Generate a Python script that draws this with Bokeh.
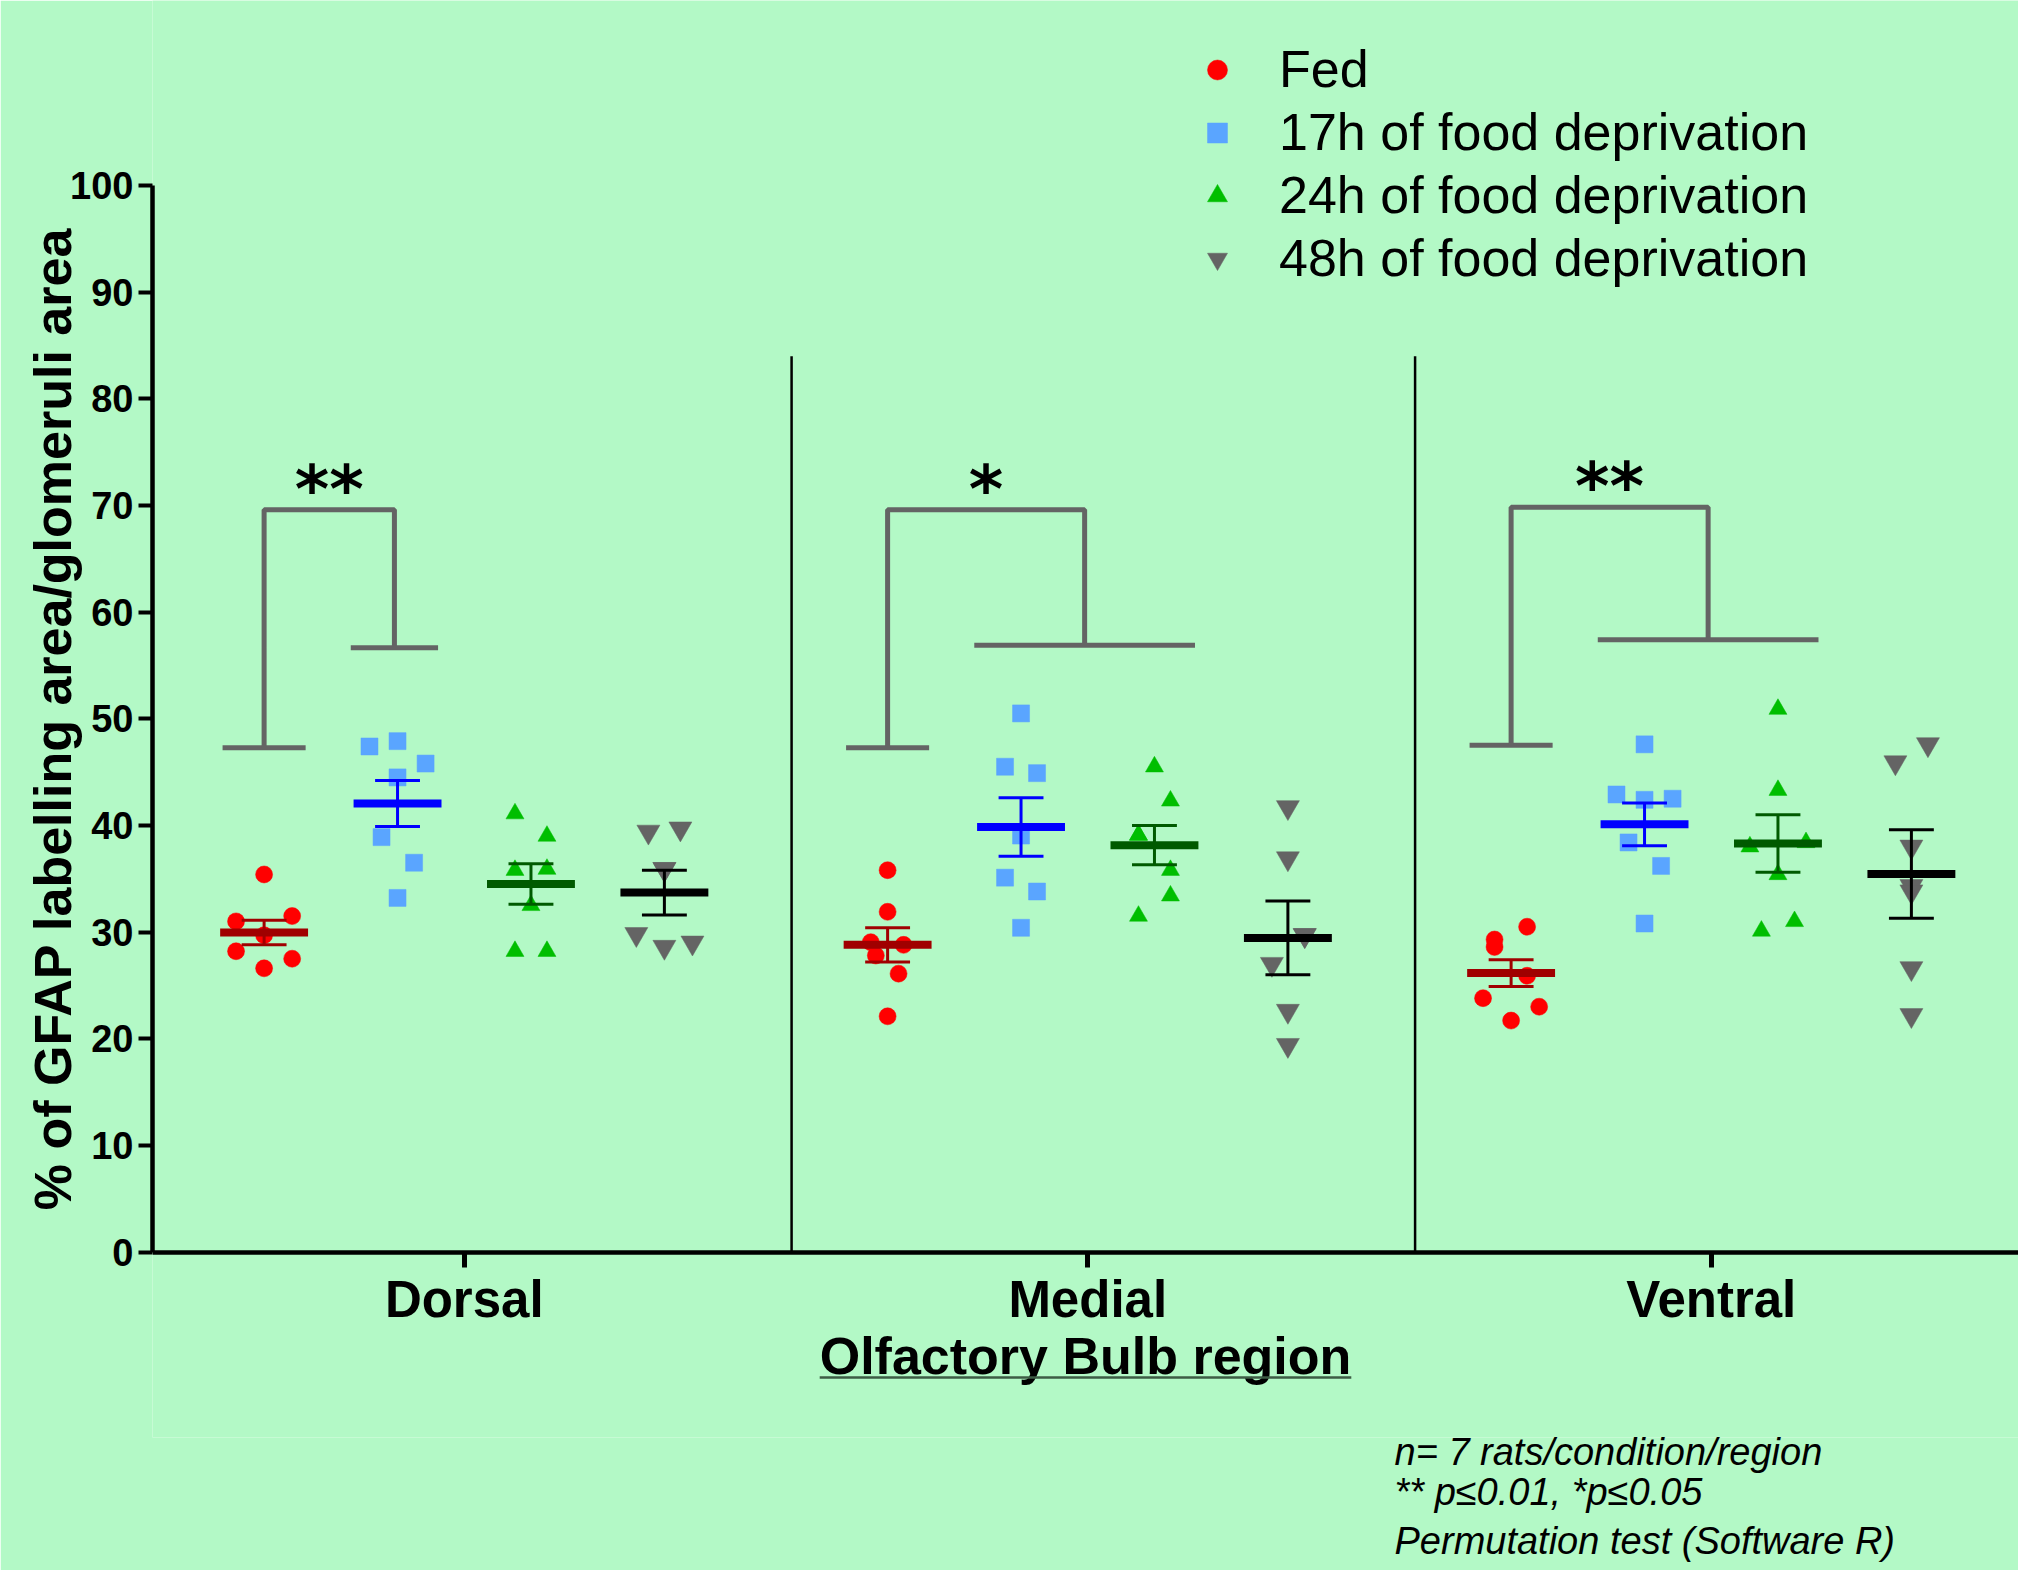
from bokeh.plotting import figure
from bokeh.models import (Range1d, FixedTicker, Legend, LegendItem, Arrow, Title)
from bokeh.core.properties import value
from bokeh.embed import file_html
from bokeh.resources import INLINE

# ---------------- data ----------------
regions = ["Dorsal", "Medial", "Ventral"]
groups = ["Fed", "17h of food deprivation", "24h of food deprivation",
          "48h of food deprivation"]

# individual rats: % of GFAP labelling area / glomeruli area
fed_dorsal = [35.4, 31.0, 31.5, 29.7, 28.2, 27.5, 26.6]
fed_medial = [35.8, 31.9, 29.05, 28.8, 27.8, 26.1, 22.1]
fed_ventral = [30.5, 29.3, 28.6, 25.9, 23.8, 23.0, 21.7]
h17_dorsal = [47.4, 47.9, 45.8, 44.5, 38.9, 36.5, 33.2]
h17_medial = [50.5, 45.5, 44.9, 39.05, 35.1, 33.8, 30.4]
h17_ventral = [47.6, 42.9, 42.4, 42.5, 38.4, 36.2, 30.8]
h24_dorsal = [41.1, 39.0, 35.8, 35.9, 32.5, 28.2, 28.2]
h24_medial = [45.5, 42.3, 39.1, 39.1, 35.8, 33.4, 31.5]
h24_ventral = [50.9, 43.3, 38.4, 38.0, 35.4, 31.0, 30.1]
h48_dorsal = [39.4, 39.7, 35.9, 35.9, 29.8, 28.6, 29.0]
h48_medial = [41.7, 36.9, 29.7, 29.7, 27.0, 22.6, 19.4]
h48_ventral = [47.6, 45.9, 38.0, 34.3, 33.8, 26.6, 22.2]

# scatter-column slot of each rat (GraphPad style spreading)
fed_dorsal_slot = [0, -1, 1, 0, -1, 1, 0]
fed_medial_slot = [0, 0, -0.6, 0.57, -0.42, 0.39, 0]
fed_ventral_slot = [0.57, -0.59, -0.59, 0.57, -1, 1, 0]
h17_dorsal_slot = [-1, 0, 1, 0, -0.57, 0.59, 0]
h17_medial_slot = [0, -0.57, 0.57, 0, -0.57, 0.57, 0]
h17_ventral_slot = [0, -1, 0, 1, -0.57, 0.59, 0]
h24_dorsal_slot = [-0.57, 0.57, -0.57, 0.57, 0, -0.57, 0.57]
h24_medial_slot = [0, 0.57, -0.57, -0.57, 0.57, 0.57, -0.57]
h24_ventral_slot = [0, 0, 1, -1, 0, 0.59, -0.59]
h48_dorsal_slot = [-0.57, 0.57, 0, 0, -1, 0, 1]
h48_medial_slot = [0, 0, 0.6, 0.6, -0.57, 0, 0]
h48_ventral_slot = [0.59, -0.57, 0, 0, 0, 0, 0]

# mean and SEM per region (Dorsal, Medial, Ventral)
mean_fed = [29.95, 28.8, 26.15]
sem_fed = [1.15, 1.6, 1.25]
mean_17h = [42.05, 39.85, 40.1]
sem_17h = [2.15, 2.75, 2.0]
mean_24h = [34.5, 38.15, 38.3]
sem_24h = [1.9, 1.85, 2.7]
mean_48h = [33.7, 29.45, 35.45]
sem_48h = [2.1, 3.45, 4.15]

# significance brackets (Fed vs deprived groups)
sig_label = ["**", "*", "**"]
sig_top = [69.6, 69.6, 69.84]
sig_fed_base = [47.28, 47.28, 47.52]
sig_dep_base = [56.65, 56.9, 57.4]
sig_dep_last_group = [1, 2, 2]

notes = ["n= 7 rats/condition/region", "** p\u22640.01, *p\u22640.05",
         "Permutation test (Software R)"]

# ---------------- styling / layout ----------------
BG = "#B3F9C6"
W, H = 2018, 1570
LEFT = 152            # frame left (px)
PX_PER_X = 623.5      # px per category unit
PX_PER_Y = 10.665     # px per % unit
Y100_PX = 185         # screen y of value 100
BOTTOM_BORDER = 133
X_END = 0.5 + (W - LEFT) / PX_PER_X
Y_HI = 100 + Y100_PX / PX_PER_Y
Y_LO = Y_HI - (H - BOTTOM_BORDER) / PX_PER_Y

GROUP_OFFSET = [-0.321, -0.107, 0.107, 0.321]
SLOT = 0.045
MEAN_HW = 0.0705
CAP_HW = 0.036
point_style = [
    dict(marker="circle", size=17, color="#FF0000"),
    dict(marker="square", size=17, color="#5AA5FF"),
    dict(marker="triangle", size=18, color="#00BE00"),
    dict(marker="inverted_triangle", size=23, color="#646464"),
]
mean_color = ["#A00000", "#0000FF", "#005A00", "#000000"]

values = [[fed_dorsal, fed_medial, fed_ventral],
          [h17_dorsal, h17_medial, h17_ventral],
          [h24_dorsal, h24_medial, h24_ventral],
          [h48_dorsal, h48_medial, h48_ventral]]
slots = [[fed_dorsal_slot, fed_medial_slot, fed_ventral_slot],
         [h17_dorsal_slot, h17_medial_slot, h17_ventral_slot],
         [h24_dorsal_slot, h24_medial_slot, h24_ventral_slot],
         [h48_dorsal_slot, h48_medial_slot, h48_ventral_slot]]
means = [mean_fed, mean_17h, mean_24h, mean_48h]
sems = [sem_fed, sem_17h, sem_24h, sem_48h]

p = figure(width=W, height=H, x_range=Range1d(0.5, X_END),
           y_range=Range1d(Y_LO, Y_HI), output_backend="svg", toolbar_location=None,
           min_border_left=LEFT, min_border_right=0, min_border_top=0,
           min_border_bottom=BOTTOM_BORDER)
p.background_fill_color = BG
p.border_fill_color = BG
p.outline_line_color = None
p.xgrid.visible = False
p.ygrid.visible = False

# region separators
sep_x = [r + 1.525 for r in range(len(regions) - 1)]
p.segment(x0=sep_x, y0=[0] * len(sep_x), x1=sep_x, y1=[84] * len(sep_x),
          line_color="black", line_width=2.5)

# points
renderers = []
for g in range(4):
    xs, ys = [], []
    for r in range(3):
        for v, s in zip(values[g][r], slots[g][r]):
            xs.append(r + 1 + GROUP_OFFSET[g] + s * SLOT)
            ys.append(v)
    st = point_style[g]
    rr = p.scatter(x=xs, y=ys, marker=st["marker"], size=st["size"],
                   fill_color=st["color"], line_color=st["color"], line_width=0.5)
    renderers.append(rr)

# mean and SEM
for g in range(4):
    cx = [r + 1 + GROUP_OFFSET[g] for r in range(3)]
    m = means[g]
    lo = [a - b for a, b in zip(means[g], sems[g])]
    hi = [a + b for a, b in zip(means[g], sems[g])]
    col = mean_color[g]
    p.segment(x0=cx, y0=lo, x1=cx, y1=hi, line_color=col, line_width=3)
    p.segment(x0=[c - CAP_HW for c in cx], y0=lo, x1=[c + CAP_HW for c in cx], y1=lo,
              line_color=col, line_width=3)
    p.segment(x0=[c - CAP_HW for c in cx], y0=hi, x1=[c + CAP_HW for c in cx], y1=hi,
              line_color=col, line_width=3)
    p.segment(x0=[c - MEAN_HW for c in cx], y0=m, x1=[c + MEAN_HW for c in cx], y1=m,
              line_color=col, line_width=8)

# significance brackets
bx, by, sx, sy = [], [], [], []
for r in range(3):
    L = r + 1 + GROUP_OFFSET[0]
    a = r + 1 + GROUP_OFFSET[1] - 0.075
    b = r + 1 + GROUP_OFFSET[sig_dep_last_group[r]] + 0.065
    R = (a + b) / 2
    bx += [[L - 0.0666, L + 0.0666], [L, L, R, R], [a, b]]
    by += [[sig_fed_base[r]] * 2, [sig_fed_base[r], sig_top[r], sig_top[r], sig_dep_base[r]],
           [sig_dep_base[r]] * 2]
    sx.append((L + R) / 2)
    sy.append(sig_top[r] + 1.9)
p.multi_line(xs=bx, ys=by, line_color="#646464", line_width=5)
p.text(x=sx, y=sy, text=sig_label, text_font=value("DejaVu Sans"),
       text_font_style="bold", text_font_size="66px", text_align="center",
       text_baseline="alphabetic", text_color="black")

# axes
yax = p.yaxis[0]
yax.ticker = FixedTicker(ticks=list(range(0, 101, 10)))
yax.bounds = (0, 100)
yax.axis_line_width = 4.5
yax.axis_line_color = "black"
yax.major_tick_line_width = 4
yax.major_tick_out = 14
yax.major_tick_in = 0
yax.minor_tick_out = 0
yax.minor_tick_in = 0
yax.major_label_text_font = "Liberation Sans"
yax.major_label_text_font_style = "bold"
yax.major_label_text_font_size = "38px"
yax.major_label_text_color = "black"
yax.major_label_standoff = 5
yax.axis_label = "% of GFAP labelling area/glomeruli area"
yax.axis_label_text_font = "Liberation Sans"
yax.axis_label_text_font_style = "bold"
yax.axis_label_text_font_size = "52px"
yax.axis_label_text_color = "black"
yax.axis_label_standoff = -15

xax = p.xaxis[0]
xax.fixed_location = 0
xax.ticker = FixedTicker(ticks=[1, 2, 3])
xax.major_label_overrides = {i + 1: name for i, name in enumerate(regions)}
xax.axis_line_width = 4.5
xax.axis_line_color = "black"
xax.major_tick_line_width = 5
xax.major_tick_out = 15
xax.major_tick_in = 0
xax.minor_tick_out = 0
xax.minor_tick_in = 0
xax.major_label_text_font = "Liberation Sans"
xax.major_label_text_font_style = "bold"
xax.major_label_text_font_size = "51px"
xax.major_label_text_color = "black"
xax.major_label_standoff = 4
xax.axis_label = "Olfactory Bulb region"
xax.axis_label_text_font = "Liberation Sans"
xax.axis_label_text_font_style = "bold"
xax.axis_label_text_font_size = "52px"
xax.axis_label_text_color = "black"
xax.axis_label_standoff = -5

# underline of the x-axis title
cx_title = (0.5 + X_END) / 2
hw_title = 0.4263
p.add_layout(Arrow(end=None, x_start=cx_title - hw_title, y_start=-11.77,
                   x_end=cx_title + hw_title, y_end=-11.77,
                   line_color="#3d5c44", line_width=2.5))

# legend
legend = Legend(items=[LegendItem(label=g, renderers=[r]) for g, r in zip(groups, renderers)],
                location=(1040, H - BOTTOM_BORDER - 289.5), orientation="vertical",
                glyph_width=50, glyph_height=63, label_height=63, label_standoff=37,
                spacing=0, padding=0, margin=0,
                background_fill_alpha=0, border_line_alpha=0,
                label_text_font="Liberation Sans", label_text_font_size="52px",
                label_text_color="black")
p.add_layout(legend)

# notes below the chart
note_standoff = [-17, 9, 1]
for txt, so in zip(notes, note_standoff):
    p.add_layout(Title(text=txt, align="left", offset=1394 - LEFT, standoff=so,
                       text_font="Liberation Sans", text_font_style="italic",
                       text_font_size="38px", text_color="black"), "below")

open("out.html", "w").write(file_html(p, INLINE))
